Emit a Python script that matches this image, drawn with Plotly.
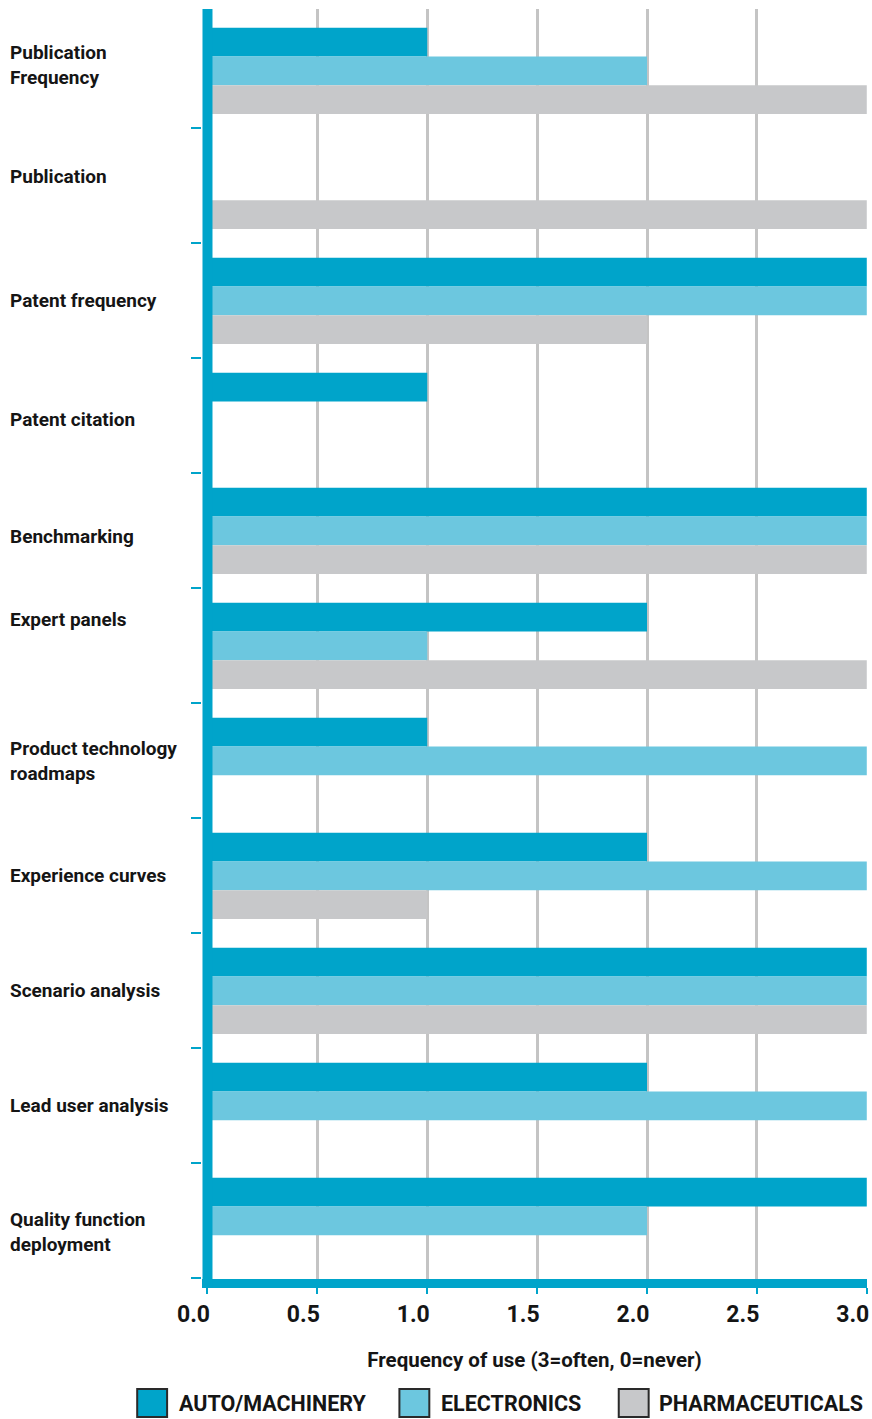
import plotly.graph_objects as go

categories = [
    "Publication<br>Frequency",
    "Publication",
    "Patent frequency",
    "Patent citation",
    "Benchmarking",
    "Expert panels",
    "Product technology<br>roadmaps",
    "Experience curves",
    "Scenario analysis",
    "Lead user analysis",
    "Quality function<br>deployment",
]
series_names = ["AUTO/MACHINERY", "ELECTRONICS", "PHARMACEUTICALS"]
auto_machinery = [1, 0, 3, 1, 3, 2, 1, 2, 3, 2, 3]
electronics = [2, 0, 3, 0, 3, 1, 3, 3, 3, 3, 2]
pharmaceuticals = [3, 3, 2, 0, 3, 3, 0, 1, 3, 0, 0]
x_tick_vals = [0, 0.5, 1.0, 1.5, 2.0, 2.5, 3.0]
x_tick_text = ["0.0", "0.5", "1.0", "1.5", "2.0", "2.5", "3.0"]
x_title = "Frequency of use (3=often, 0=never)"

colors = ["#00A4CA", "#6CC7DF", "#C7C8CA"]
BLUE = "#00A4CA"
FONT = "Roboto, Liberation Sans, sans-serif"
TXT = "#151515"

positions = list(range(len(categories)))
fig = go.Figure()
for name, vals, col in zip(series_names, [auto_machinery, electronics, pharmaceuticals], colors):
    fig.add_trace(go.Bar(
        y=positions, x=vals, name=name, orientation="h",
        marker=dict(color=col, line=dict(width=0)),
        showlegend=False,
    ))

W, H = 872, 1419
L, R, T, B = 202, 3, 9, 140
pw = W - L - R
ph = H - T - B

fig.update_layout(
    width=W, height=H,
    margin=dict(l=L, r=R, t=T, b=B, pad=0),
    paper_bgcolor="white", plot_bgcolor="white",
    barmode="group", bargap=0.25, bargroupgap=0,
    font=dict(family=FONT, color=TXT, weight="bold"),
)
fig.update_xaxes(
    range=[-0.025, 3.001],
    tickvals=x_tick_vals, ticktext=x_tick_text,
    showgrid=True, gridcolor="#C4C4C4", gridwidth=3,
    zeroline=False,
    showline=True, linecolor=BLUE, linewidth=9,
    ticks="outside", ticklen=6, tickwidth=2, tickcolor=BLUE,
    ticklabelshift=-14,
    tickfont=dict(size=23, family=FONT, color=TXT, weight="bold"),
    title=dict(text=x_title, font=dict(size=20.5, family=FONT, color=TXT, weight="bold"), standoff=30),
)
fig.update_yaxes(
    range=[10.506, -0.537],
    tickvals=[i + 0.5 for i in positions],
    showticklabels=False,
    showgrid=False, zeroline=False, showline=False,
    ticks="outside", ticklen=10, tickwidth=2, tickcolor=BLUE,
)

# thick left axis line at x = 0
fig.add_shape(type="line", xref="x", yref="paper", x0=0, x1=0, y0=-9 / ph, y1=1,
              line=dict(color=BLUE, width=10), layer="above")

# category labels (small vertical nudges in pixels, as in the original layout)
label_nudge = {0: 6, 1: 9, 3: -4, 4: -6, 5: 26, 10: -11}
for i, lab in enumerate(categories):
    fig.add_annotation(
        xref="paper", yref="y", x=(7 - L) / pw, y=i, yshift=label_nudge.get(i, 0),
        text=lab, showarrow=False, xanchor="left", yanchor="middle", align="left",
        font=dict(size=19, family=FONT, color=TXT, weight="bold"),
    )

# legend (manual)
legend_px = [(137, 177), (400, 440), (620, 658)]
for (sx, tx), name, col in zip(legend_px, series_names, colors):
    fig.add_shape(type="rect", xref="paper", yref="paper",
                  x0=(sx - L) / pw, x1=(sx + 30 - L) / pw,
                  y0=(T + ph - 1417) / ph, y1=(T + ph - 1389) / ph,
                  fillcolor=col, line=dict(color="#2a2a2a", width=2))
    fig.add_annotation(
        xref="paper", yref="paper", x=(tx - L) / pw, y=(T + ph - 1403) / ph,
        text=name, showarrow=False, xanchor="left", yanchor="middle",
        font=dict(size=21.5, family=FONT, color=TXT, weight="bold"),
    )

fig.write_html("out.html")
